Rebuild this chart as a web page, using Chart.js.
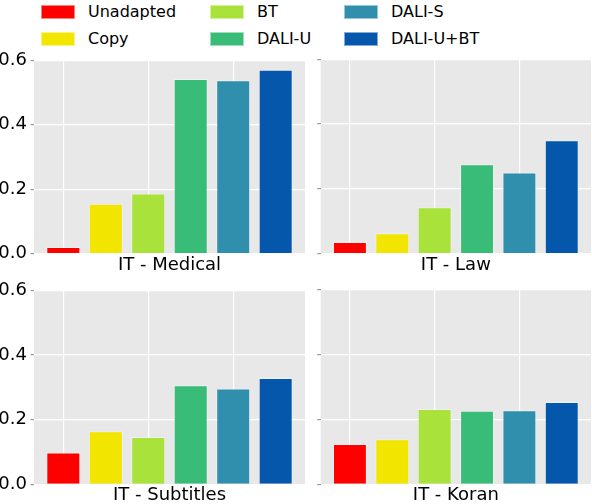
<!DOCTYPE html>
<html>
<head>
<meta charset="utf-8">
<script src="https://cdn.jsdelivr.net/npm/chart.js@4/dist/chart.umd.min.js"></script>
<style>
  body { margin: 0; background: #fff; }
  #wrap { position: relative; width: 592px; height: 504px; overflow: hidden; }
  canvas { position: absolute; }
  .item { position: absolute; height: 14px; }
  .box { position: absolute; left: 0; top: 0; width: 32px; height: 12px; border: 1px solid rgba(255,255,255,0.5); }
  .lbl { position: absolute; left: 47px; top: -4px; font: 16px "DejaVu Sans", sans-serif; line-height: 22px; white-space: nowrap; color: #000; }
</style>
</head>
<body>
<div id="wrap">
  <div id="legend"></div>
  <canvas id="c0" width="310" height="234" style="left:0;top:46px"></canvas>
  <canvas id="c1" width="282" height="234" style="left:310px;top:46px"></canvas>
  <canvas id="c2" width="310" height="228" style="left:0;top:276px"></canvas>
  <canvas id="c3" width="282" height="228" style="left:310px;top:276px"></canvas>
</div>
<script>
// methods and their colours
var methods = ['Unadapted', 'Copy', 'BT', 'DALI-U', 'DALI-S', 'DALI-U+BT'];
var colors = ['#ff0000', '#f2e600', '#a8e23a', '#3abc79', '#318fae', '#0557ab'];

// panel titles and values
var panels = ['IT - Medical', 'IT - Law', 'IT - Subtitles', 'IT - Koran'];
var medical = [0.021, 0.155, 0.187, 0.542, 0.538, 0.571];
var law = [0.036, 0.063, 0.143, 0.276, 0.251, 0.350];
var subtitles = [0.098, 0.164, 0.146, 0.306, 0.296, 0.329];
var koran = [0.124, 0.139, 0.232, 0.226, 0.228, 0.253];

var yTicks = [0, 0.2, 0.4, 0.6];
var xGrid = [0, 2, 4];

Chart.defaults.font.family = '"DejaVu Sans", sans-serif';
Chart.defaults.font.size = 18;
Chart.defaults.color = '#000';

// legend, filled column by column
var legend = document.getElementById('legend');
var colX = [41, 210, 344];
var rowY = [4.5, 31.5];
methods.forEach(function (m, i) {
    var item = document.createElement('div');
    item.className = 'item';
    item.style.left = colX[Math.floor(i / 2)] + 'px';
    item.style.top = rowY[i % 2] + 'px';
    item.innerHTML = '<div class="box" style="background:' + colors[i] + '"></div><div class="lbl">' + m + '</div>';
    legend.appendChild(item);
});

// grey plot background
var bgPlugin = {
    id: 'plotBg',
    beforeDraw: function (chart) {
        var a = chart.chartArea, ctx = chart.ctx;
        ctx.save();
        ctx.fillStyle = '#e8e8e8';
        ctx.fillRect(a.left, a.top, a.right - a.left, a.bottom - a.top);
        ctx.restore();
    }
};

function makePanel(id, title, vals, cfg) {
    new Chart(document.getElementById(id), {
        type: 'bar',
        data: {
            datasets: [{
                data: vals.map(function (v, i) { return { x: i, y: v }; }),
                backgroundColor: colors,
                borderColor: 'rgba(255,255,255,0.35)',
                borderWidth: 1,
                categoryPercentage: 1,
                barPercentage: 0.8
            }]
        },
        options: {
            responsive: false,
            animation: false,
            layout: { padding: { top: 13.3, right: cfg.right, left: 0, bottom: 0 } },
            plugins: { legend: { display: false }, tooltip: { enabled: false } },
            scales: {
                x: {
                    type: 'linear',
                    min: -0.69,
                    max: 5.69,
                    offset: false,
                    ticks: { display: false },
                    grid: { color: '#ffffff', lineWidth: 1.2, drawTicks: false, offset: false },
                    border: { display: false },
                    afterBuildTicks: function (s) { s.ticks = xGrid.map(function (v) { return { value: v }; }); },
                    afterFit: function (s) { s.height = cfg.xh; },
                    title: {
                        display: true,
                        text: title,
                        color: '#000',
                        font: { size: 18, lineHeight: 1 },
                        padding: { top: 0, bottom: cfg.tp }
                    }
                },
                y: {
                    min: 0,
                    max: 0.6,
                    ticks: {
                        display: cfg.labels,
                        padding: 3.5,
                        callback: function (v) { return v.toFixed(1); }
                    },
                    grid: { color: '#ffffff', lineWidth: 1.2, tickLength: 3.5, tickColor: '#999' },
                    border: { display: false },
                    afterBuildTicks: function (s) { s.ticks = yTicks.map(function (v) { return { value: v }; }); },
                    afterFit: function (s) { s.width = cfg.yw; }
                }
            }
        },
        plugins: [bgPlugin]
    });
}

makePanel('c0', panels[0], medical,   { right: 5, yw: 34,   labels: true,  xh: 26.3, tp: 6 });
makePanel('c1', panels[1], law,       { right: 1, yw: 10.7, labels: false, xh: 26.3, tp: 6 });
makePanel('c2', panels[2], subtitles, { right: 5, yw: 34,   labels: true,  xh: 19.7, tp: 0 });
makePanel('c3', panels[3], koran,     { right: 1, yw: 10.7, labels: false, xh: 19.7, tp: 0 });
</script>
</body>
</html>
